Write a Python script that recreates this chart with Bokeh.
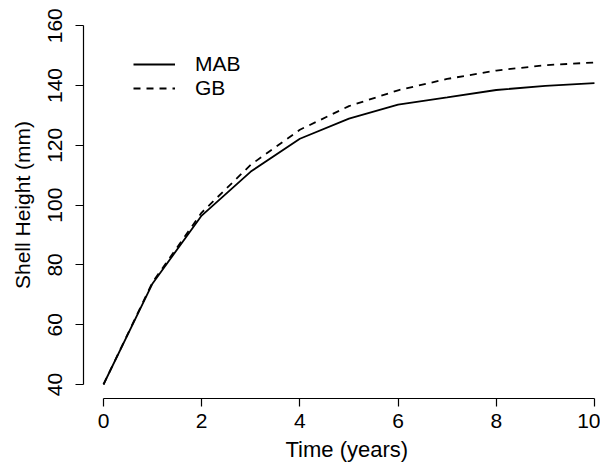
from bokeh.plotting import figure
from bokeh.models import Range1d, FixedTicker, Legend, LegendItem, Title
from bokeh.embed import file_html
from bokeh.resources import INLINE

years = [0, 1, 2, 3, 4, 5, 6, 7, 8, 9, 10]
mab = [40, 73.8, 96.5, 111.2, 122.2, 128.9, 133.6, 136.0, 138.5, 139.9, 140.8]
gb = [40, 74.2, 97.5, 113.5, 125.2, 133.1, 138.4, 142.2, 145.0, 146.8, 147.7]
x_ticks = [0, 2, 4, 6, 8, 10]
y_ticks = [40, 60, 80, 100, 120, 140, 160]

FONT = "Liberation Sans"
FS = "21px"

p = figure(frame_width=517, frame_height=387, output_backend="svg", toolbar_location=None,
           x_range=Range1d(-0.407, 10.123), y_range=Range1d(35.32, 164.75),
           min_border_left=83, min_border_right=0, min_border_top=11, min_border_bottom=20)
p.outline_line_color = None
p.xgrid.visible = False
p.ygrid.visible = False
p.background_fill_color = "white"
p.border_fill_color = "white"

r1 = p.line(years, mab, line_color="black", line_width=1.8)
r2 = p.line(years, gb, line_color="black", line_width=1.8, line_dash="7 6")

for ax in (p.xaxis[0], p.yaxis[0]):
    ax.axis_line_color = "black"
    ax.axis_line_width = 1.2
    ax.major_tick_line_color = "black"
    ax.major_tick_line_width = 1.2
    ax.major_tick_in = 0
    ax.major_tick_out = 8
    ax.minor_tick_line_color = None
    ax.major_label_text_font = FONT
    ax.major_label_text_font_size = FS
    ax.major_label_text_color = "black"
    ax.axis_label_text_font = FONT
    ax.axis_label_text_font_size = FS
    ax.axis_label_text_font_style = "normal"
    ax.axis_label_text_color = "black"

p.xaxis.ticker = FixedTicker(ticks=x_ticks)
p.yaxis.ticker = FixedTicker(ticks=y_ticks)
p.xaxis.bounds = (0, 10)
p.yaxis.bounds = (40, 160)
p.yaxis.major_label_orientation = "parallel"
p.yaxis.major_label_standoff = 13
p.xaxis.major_label_standoff = 7
p.yaxis.axis_label = "Shell Height (mm)"
p.yaxis.axis_label_standoff = 12

xt = Title(text="Time (years)", align="left", offset=202, text_font=FONT,
           text_font_size="22px", text_font_style="normal", text_color="black", standoff=8)
p.add_layout(xt, "below")

legend = Legend(items=[LegendItem(label="MAB", renderers=[r1]),
                       LegendItem(label="GB", renderers=[r2])],
                location=(50, 298), glyph_width=42, glyph_height=20, label_height=20,
                label_standoff=20, spacing=-5, padding=0, margin=0,
                label_text_font=FONT, label_text_font_size=FS, label_text_color="black",
                border_line_color=None, background_fill_alpha=0)
p.add_layout(legend)

open("out.html", "w").write(file_html(p, INLINE))
